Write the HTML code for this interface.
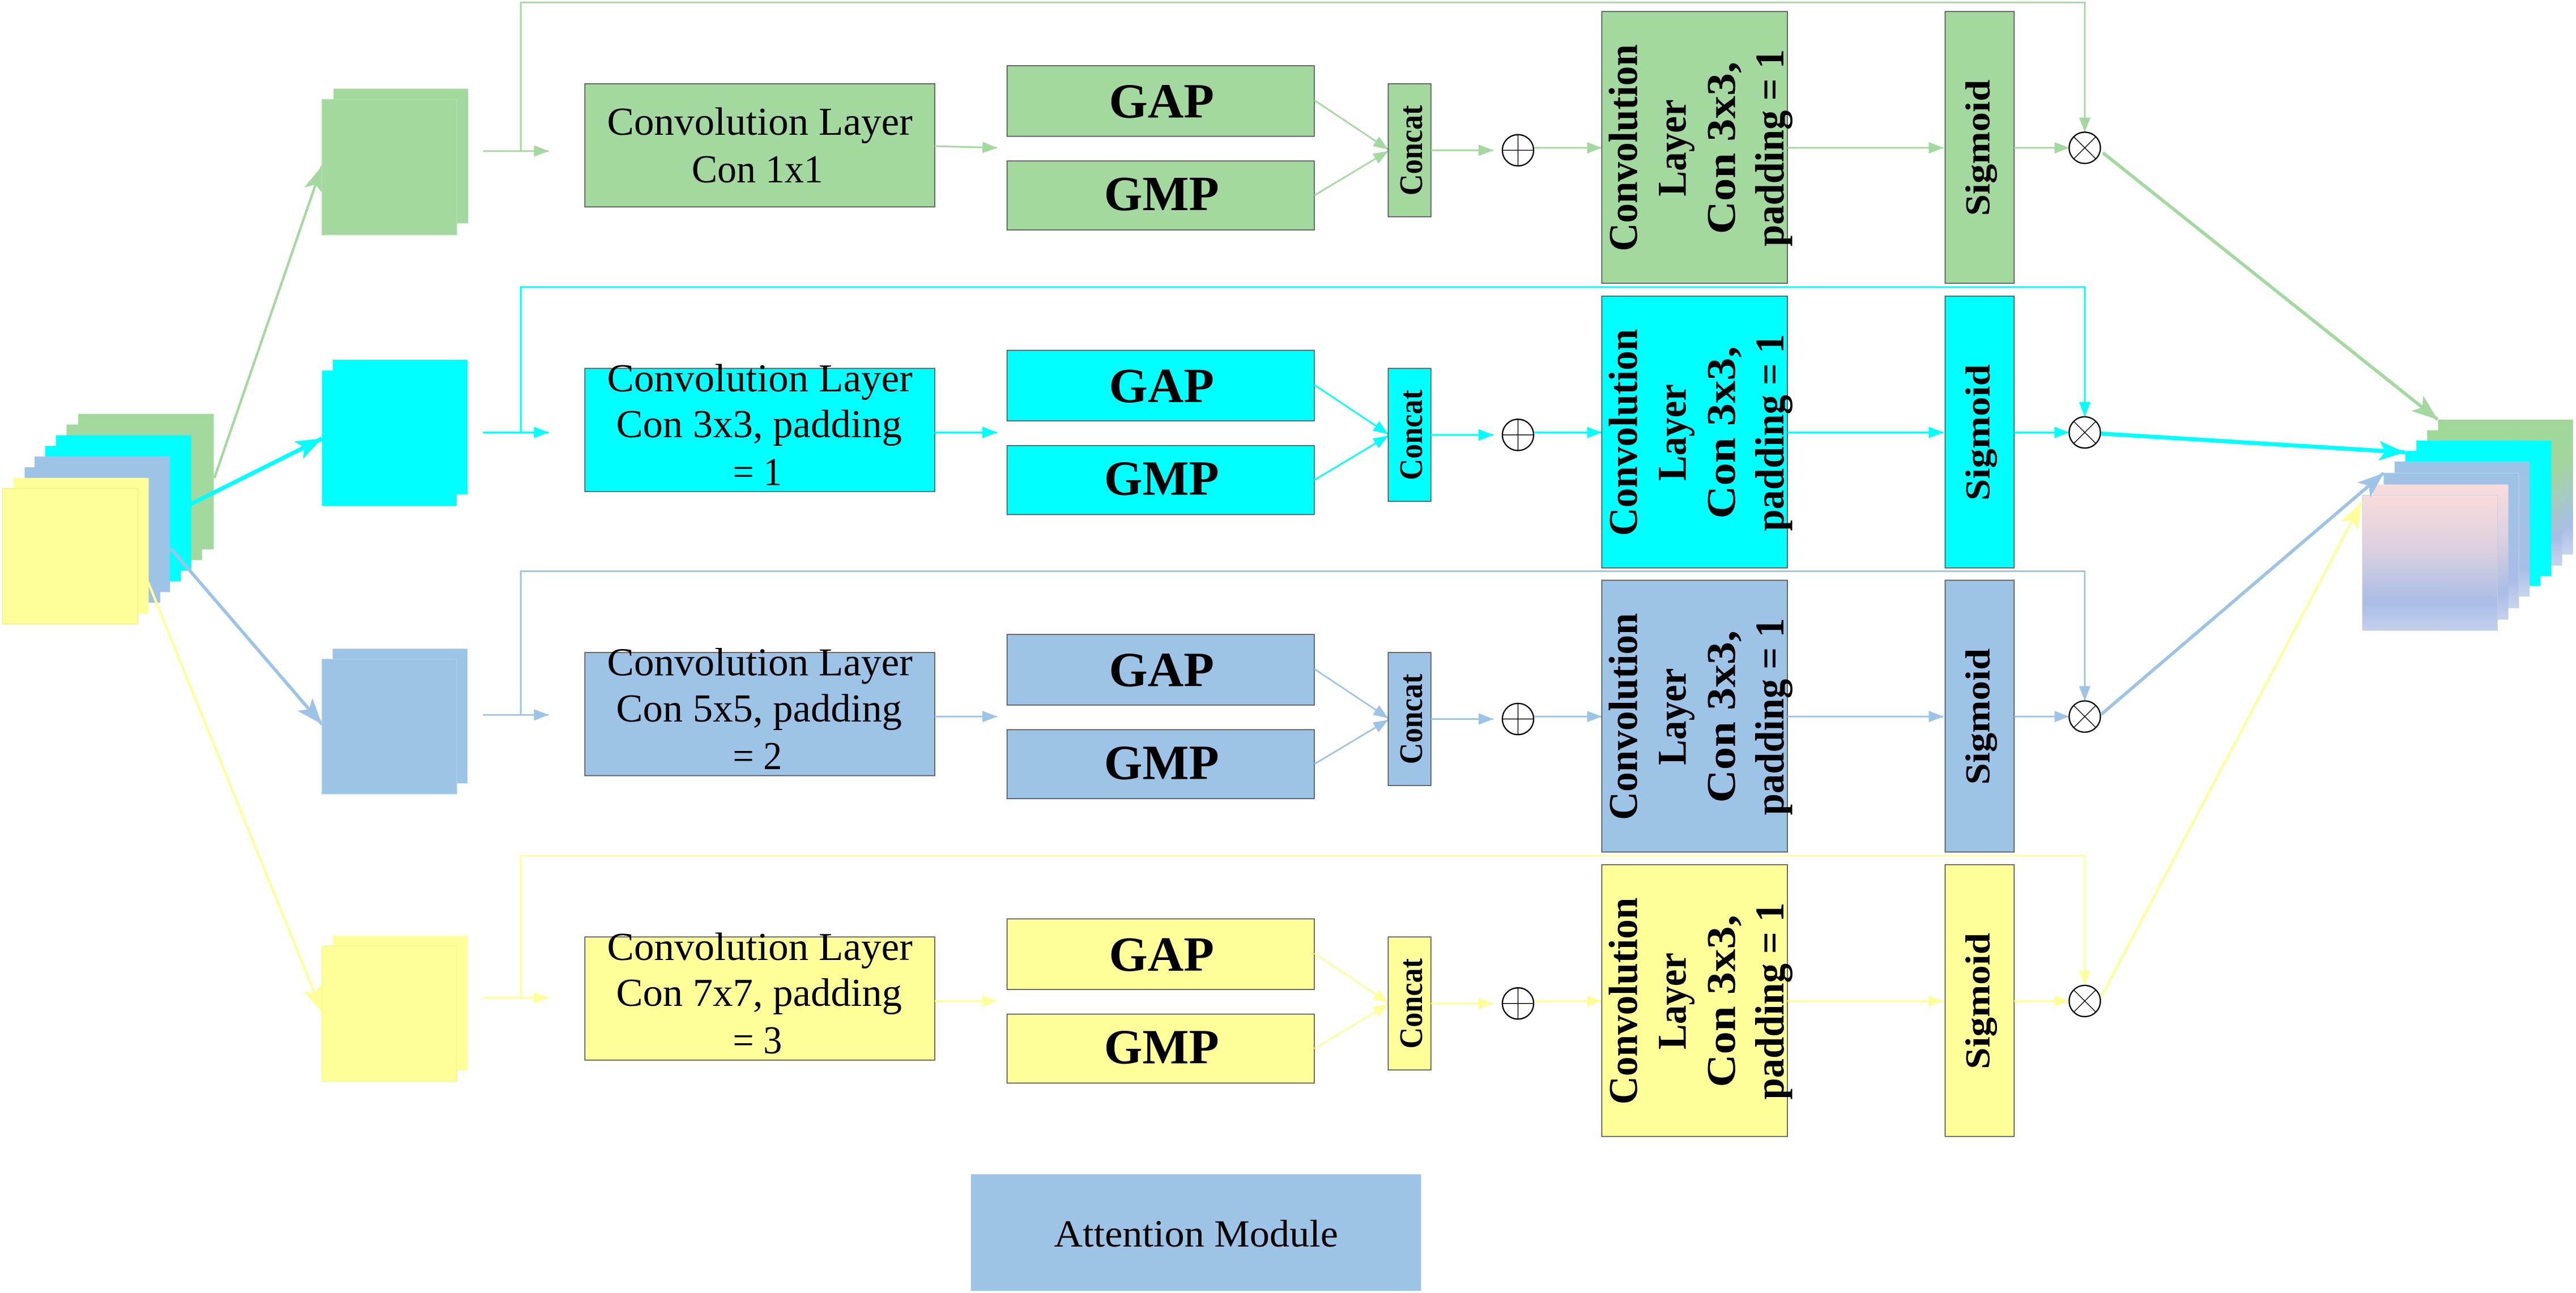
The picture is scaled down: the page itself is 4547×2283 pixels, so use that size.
<!DOCTYPE html>
<html><head><meta charset="utf-8"><style>
html,body{margin:0;padding:0;background:#fff;}
svg{display:block;}
text{font-family:"Liberation Serif",serif;fill:#000;}
.b{font-weight:bold;}
</style></head><body>
<svg width="4547" height="2283" viewBox="0 0 1568 787.3" preserveAspectRatio="none" xmlns="http://www.w3.org/2000/svg">
<defs>
<marker id="sg" markerUnits="userSpaceOnUse" markerWidth="9" markerHeight="7" refX="9" refY="3.5" orient="auto"><path d="M0,0 L9,3.5 L0,7 z" fill="#A3D89F"/></marker>
<marker id="sc" markerUnits="userSpaceOnUse" markerWidth="9" markerHeight="7" refX="9" refY="3.5" orient="auto"><path d="M0,0 L9,3.5 L0,7 z" fill="#00FFFF"/></marker>
<marker id="sb" markerUnits="userSpaceOnUse" markerWidth="9" markerHeight="7" refX="9" refY="3.5" orient="auto"><path d="M0,0 L9,3.5 L0,7 z" fill="#9DC3E6"/></marker>
<marker id="sy" markerUnits="userSpaceOnUse" markerWidth="9" markerHeight="7" refX="9" refY="3.5" orient="auto"><path d="M0,0 L9,3.5 L0,7 z" fill="#FFFF99"/></marker>
<marker id="lg" markerUnits="userSpaceOnUse" markerWidth="16" markerHeight="12" refX="16" refY="6" orient="auto"><path d="M0,0 L16,6 L0,12 L4,6 z" fill="#A3D89F"/></marker>
<marker id="lc" markerUnits="userSpaceOnUse" markerWidth="16" markerHeight="12" refX="16" refY="6" orient="auto"><path d="M0,0 L16,6 L0,12 L4,6 z" fill="#00FFFF"/></marker>
<marker id="lb" markerUnits="userSpaceOnUse" markerWidth="16" markerHeight="12" refX="16" refY="6" orient="auto"><path d="M0,0 L16,6 L0,12 L4,6 z" fill="#9DC3E6"/></marker>
<marker id="ly" markerUnits="userSpaceOnUse" markerWidth="16" markerHeight="12" refX="16" refY="6" orient="auto"><path d="M0,0 L16,6 L0,12 L4,6 z" fill="#FFFF99"/></marker>
<linearGradient id="gG" x1="0" y1="0" x2="0" y2="1"><stop offset="0" stop-color="#A0D89A"/><stop offset="0.3" stop-color="#A3D59E"/><stop offset="0.8" stop-color="#A9BEE6"/><stop offset="1" stop-color="#C8D4EE"/></linearGradient>
<linearGradient id="gB" x1="0" y1="0" x2="0" y2="1"><stop offset="0" stop-color="#9DC3E6"/><stop offset="0.8" stop-color="#A9BEE6"/><stop offset="1" stop-color="#C8D4EE"/></linearGradient>
<linearGradient id="gP" x1="0" y1="0" x2="0" y2="1"><stop offset="0" stop-color="#F9DCDC"/><stop offset="0.4" stop-color="#DCD0E0"/><stop offset="0.8" stop-color="#A9BDE6"/><stop offset="1" stop-color="#C5D0EC"/></linearGradient>
</defs>

<!-- input stack -->
<rect x="47.6" y="252" width="82.5" height="82.5" fill="#A3D89F"/>
<rect x="40.5" y="258.5" width="82.5" height="82.5" fill="#A3D89F"/>
<rect x="34" y="265" width="82.5" height="82.5" fill="#00FFFF"/>
<rect x="27.5" y="271.5" width="82.5" height="82.5" fill="#00FFFF"/>
<rect x="21" y="278" width="82.5" height="82.5" fill="#9DC3E6"/>
<rect x="15" y="284.5" width="82.5" height="82.5" fill="#9DC3E6"/>
<rect x="8" y="291" width="82.5" height="82.5" fill="#FFFF99"/>
<rect x="1.5" y="297.5" width="82.5" height="82.5" fill="#FFFF99" stroke="#F0F090" stroke-width="0.5"/>

<!-- input arrows -->
<line x1="130.5" y1="291" x2="196" y2="101" stroke="#A3D89F" stroke-width="1.5" marker-end="url(#lg)"/>
<line x1="116" y1="307" x2="196" y2="267" stroke="#00FFFF" stroke-width="2.5" marker-end="url(#lc)"/>
<line x1="104" y1="334" x2="196" y2="441" stroke="#9DC3E6" stroke-width="2" marker-end="url(#lb)"/>
<line x1="90" y1="354" x2="196" y2="616" stroke="#FFFF99" stroke-width="1.5" marker-end="url(#ly)"/>

<!-- row squares -->
<rect x="203" y="54" width="82" height="82" fill="#A3D89F"/>
<rect x="196" y="60.5" width="82" height="82.5" fill="#A3D89F" stroke="#B5E0B0" stroke-width="0.5"/>
<rect x="202.5" y="219" width="82" height="82" fill="#00FFFF"/>
<rect x="196" y="225.6" width="82" height="82.5" fill="#00FFFF"/>
<rect x="202.5" y="395" width="82" height="82" fill="#9DC3E6"/>
<rect x="196" y="401.4" width="82" height="82" fill="#9DC3E6" stroke="#B0CFEB" stroke-width="0.5"/>
<rect x="202.5" y="569.8" width="82" height="82" fill="#FFFF99"/>
<rect x="196" y="576" width="82" height="82.5" fill="#FFFF99" stroke="#F5F590" stroke-width="0.5"/>

<!-- Row 1 green -->
<g>
<polyline points="317,92 317,1.5 1269,1.5 1269,80.5" fill="none" stroke="#A3D89F" stroke-width="1" marker-end="url(#sg)"/>
<line x1="294" y1="92" x2="334" y2="92" stroke="#A3D89F" stroke-width="1" marker-end="url(#sg)"/>
<rect x="356" y="51" width="213" height="75" fill="#A3D89F" stroke="#555" stroke-width="0.6"/>
<text x="462.5" y="82" font-size="24" text-anchor="middle" textLength="186" lengthAdjust="spacingAndGlyphs">Convolution Layer</text>
<text x="461" y="111" font-size="24" text-anchor="middle" textLength="80" lengthAdjust="spacingAndGlyphs">Con 1x1</text>
<line x1="569" y1="89" x2="607" y2="90" stroke="#A3D89F" stroke-width="1" marker-end="url(#sg)"/>
<rect x="613" y="40" width="187" height="43" fill="#A3D89F" stroke="#555" stroke-width="0.6"/>
<rect x="613" y="98" width="187" height="42" fill="#A3D89F" stroke="#555" stroke-width="0.6"/>
<text x="707" y="71.5" font-size="30" class="b" text-anchor="middle" textLength="64" lengthAdjust="spacingAndGlyphs">GAP</text>
<text x="707" y="128" font-size="30" class="b" text-anchor="middle" textLength="70" lengthAdjust="spacingAndGlyphs">GMP</text>
<line x1="800" y1="61" x2="845" y2="91" stroke="#A3D89F" stroke-width="1" marker-end="url(#sg)"/>
<line x1="800" y1="119" x2="845" y2="92" stroke="#A3D89F" stroke-width="1" marker-end="url(#sg)"/>
<rect x="845" y="51" width="26" height="81" fill="#A3D89F" stroke="#555" stroke-width="0.6"/>
<text transform="translate(865.5,91.5) rotate(-90)" font-size="20" class="b" text-anchor="middle" textLength="55" lengthAdjust="spacingAndGlyphs">Concat</text>
<line x1="871" y1="91.5" x2="909" y2="91.5" stroke="#A3D89F" stroke-width="1" marker-end="url(#sg)"/>
<circle cx="924" cy="91.5" r="9.5" fill="#fff" stroke="#000" stroke-width="0.8"/>
<path d="M914.5,91.5 H933.5 M924,82 V101" stroke="#000" stroke-width="0.5"/>
<line x1="934" y1="90" x2="975" y2="90" stroke="#A3D89F" stroke-width="1" marker-end="url(#sg)"/>
<rect x="975" y="7" width="113" height="165.5" fill="#A3D89F" stroke="#555" stroke-width="0.6"/>
<text transform="translate(996.5,90) rotate(-90)" font-size="25" class="b" text-anchor="middle" textLength="126" lengthAdjust="spacingAndGlyphs">Convolution</text>
<text transform="translate(1026,90) rotate(-90)" font-size="25" class="b" text-anchor="middle" textLength="59" lengthAdjust="spacingAndGlyphs">Layer</text>
<text transform="translate(1056,90) rotate(-90)" font-size="25" class="b" text-anchor="middle" textLength="105" lengthAdjust="spacingAndGlyphs">Con 3x3,</text>
<text transform="translate(1085.5,90) rotate(-90)" font-size="25" class="b" text-anchor="middle" textLength="120" lengthAdjust="spacingAndGlyphs">padding = 1</text>
<line x1="1088" y1="90" x2="1183" y2="90" stroke="#A3D89F" stroke-width="1" marker-end="url(#sg)"/>
<rect x="1184" y="7" width="42" height="165.5" fill="#A3D89F" stroke="#555" stroke-width="0.6"/>
<text transform="translate(1211,90) rotate(-90)" font-size="21" class="b" text-anchor="middle" textLength="83" lengthAdjust="spacingAndGlyphs">Sigmoid</text>
<line x1="1226" y1="90" x2="1259.5" y2="90" stroke="#A3D89F" stroke-width="1" marker-end="url(#sg)"/>
<circle cx="1269" cy="90" r="9.5" fill="#fff" stroke="#000" stroke-width="0.8"/>
<path d="M1262.3,83.3 L1275.7,96.7 M1275.7,83.3 L1262.3,96.7" stroke="#000" stroke-width="0.5"/>
</g>

<!-- Row 2 cyan -->
<g transform="translate(0,173.3)">
<polyline points="317,90 317,1.5 1269,1.5 1269,80.5" fill="none" stroke="#00FFFF" stroke-width="1" marker-end="url(#sc)"/>
<line x1="294" y1="90" x2="334" y2="90" stroke="#00FFFF" stroke-width="1" marker-end="url(#sc)"/>
<rect x="356" y="51" width="213" height="75" fill="#00FFFF" stroke="#555" stroke-width="0.6"/>
<text x="462.5" y="65" font-size="24" text-anchor="middle" textLength="186" lengthAdjust="spacingAndGlyphs">Convolution Layer</text>
<text x="462" y="93" font-size="24" text-anchor="middle" textLength="174" lengthAdjust="spacingAndGlyphs">Con 3x3, padding</text>
<text x="461" y="122" font-size="24" text-anchor="middle" textLength="30" lengthAdjust="spacingAndGlyphs">= 1</text>
<line x1="569" y1="90" x2="607" y2="90" stroke="#00FFFF" stroke-width="1" marker-end="url(#sc)"/>
<rect x="613" y="40" width="187" height="43" fill="#00FFFF" stroke="#555" stroke-width="0.6"/>
<rect x="613" y="98" width="187" height="42" fill="#00FFFF" stroke="#555" stroke-width="0.6"/>
<text x="707" y="71.5" font-size="30" class="b" text-anchor="middle" textLength="64" lengthAdjust="spacingAndGlyphs">GAP</text>
<text x="707" y="128" font-size="30" class="b" text-anchor="middle" textLength="70" lengthAdjust="spacingAndGlyphs">GMP</text>
<line x1="800" y1="61" x2="845" y2="91" stroke="#00FFFF" stroke-width="1" marker-end="url(#sc)"/>
<line x1="800" y1="119" x2="845" y2="92" stroke="#00FFFF" stroke-width="1" marker-end="url(#sc)"/>
<rect x="845" y="51" width="26" height="81" fill="#00FFFF" stroke="#555" stroke-width="0.6"/>
<text transform="translate(865.5,91.5) rotate(-90)" font-size="20" class="b" text-anchor="middle" textLength="55" lengthAdjust="spacingAndGlyphs">Concat</text>
<line x1="871" y1="91.5" x2="909" y2="91.5" stroke="#00FFFF" stroke-width="1" marker-end="url(#sc)"/>
<circle cx="924" cy="91.5" r="9.5" fill="#fff" stroke="#000" stroke-width="0.8"/>
<path d="M914.5,91.5 H933.5 M924,82 V101" stroke="#000" stroke-width="0.5"/>
<line x1="934" y1="90" x2="975" y2="90" stroke="#00FFFF" stroke-width="1" marker-end="url(#sc)"/>
<rect x="975" y="7" width="113" height="165.5" fill="#00FFFF" stroke="#555" stroke-width="0.6"/>
<text transform="translate(996.5,90) rotate(-90)" font-size="25" class="b" text-anchor="middle" textLength="126" lengthAdjust="spacingAndGlyphs">Convolution</text>
<text transform="translate(1026,90) rotate(-90)" font-size="25" class="b" text-anchor="middle" textLength="59" lengthAdjust="spacingAndGlyphs">Layer</text>
<text transform="translate(1056,90) rotate(-90)" font-size="25" class="b" text-anchor="middle" textLength="105" lengthAdjust="spacingAndGlyphs">Con 3x3,</text>
<text transform="translate(1085.5,90) rotate(-90)" font-size="25" class="b" text-anchor="middle" textLength="120" lengthAdjust="spacingAndGlyphs">padding = 1</text>
<line x1="1088" y1="90" x2="1183" y2="90" stroke="#00FFFF" stroke-width="1" marker-end="url(#sc)"/>
<rect x="1184" y="7" width="42" height="165.5" fill="#00FFFF" stroke="#555" stroke-width="0.6"/>
<text transform="translate(1211,90) rotate(-90)" font-size="21" class="b" text-anchor="middle" textLength="83" lengthAdjust="spacingAndGlyphs">Sigmoid</text>
<line x1="1226" y1="90" x2="1259.5" y2="90" stroke="#00FFFF" stroke-width="1" marker-end="url(#sc)"/>
<circle cx="1269" cy="90" r="9.5" fill="#fff" stroke="#000" stroke-width="0.8"/>
<path d="M1262.3,83.3 L1275.7,96.7 M1275.7,83.3 L1262.3,96.7" stroke="#000" stroke-width="0.5"/>
</g>

<!-- Row 3 blue -->
<g transform="translate(0,346.3)">
<polyline points="317,89 317,1.5 1269,1.5 1269,80.5" fill="none" stroke="#9DC3E6" stroke-width="1" marker-end="url(#sb)"/>
<line x1="294" y1="89" x2="334" y2="89" stroke="#9DC3E6" stroke-width="1" marker-end="url(#sb)"/>
<rect x="356" y="51" width="213" height="75" fill="#9DC3E6" stroke="#555" stroke-width="0.6"/>
<text x="462.5" y="65" font-size="24" text-anchor="middle" textLength="186" lengthAdjust="spacingAndGlyphs">Convolution Layer</text>
<text x="462" y="93" font-size="24" text-anchor="middle" textLength="174" lengthAdjust="spacingAndGlyphs">Con 5x5, padding</text>
<text x="461" y="122" font-size="24" text-anchor="middle" textLength="30" lengthAdjust="spacingAndGlyphs">= 2</text>
<line x1="569" y1="90" x2="607" y2="90" stroke="#9DC3E6" stroke-width="1" marker-end="url(#sb)"/>
<rect x="613" y="40" width="187" height="43" fill="#9DC3E6" stroke="#555" stroke-width="0.6"/>
<rect x="613" y="98" width="187" height="42" fill="#9DC3E6" stroke="#555" stroke-width="0.6"/>
<text x="707" y="71.5" font-size="30" class="b" text-anchor="middle" textLength="64" lengthAdjust="spacingAndGlyphs">GAP</text>
<text x="707" y="128" font-size="30" class="b" text-anchor="middle" textLength="70" lengthAdjust="spacingAndGlyphs">GMP</text>
<line x1="800" y1="61" x2="845" y2="91" stroke="#9DC3E6" stroke-width="1" marker-end="url(#sb)"/>
<line x1="800" y1="119" x2="845" y2="92" stroke="#9DC3E6" stroke-width="1" marker-end="url(#sb)"/>
<rect x="845" y="51" width="26" height="81" fill="#9DC3E6" stroke="#555" stroke-width="0.6"/>
<text transform="translate(865.5,91.5) rotate(-90)" font-size="20" class="b" text-anchor="middle" textLength="55" lengthAdjust="spacingAndGlyphs">Concat</text>
<line x1="871" y1="91.5" x2="909" y2="91.5" stroke="#9DC3E6" stroke-width="1" marker-end="url(#sb)"/>
<circle cx="924" cy="91.5" r="9.5" fill="#fff" stroke="#000" stroke-width="0.8"/>
<path d="M914.5,91.5 H933.5 M924,82 V101" stroke="#000" stroke-width="0.5"/>
<line x1="934" y1="90" x2="975" y2="90" stroke="#9DC3E6" stroke-width="1" marker-end="url(#sb)"/>
<rect x="975" y="7" width="113" height="165.5" fill="#9DC3E6" stroke="#555" stroke-width="0.6"/>
<text transform="translate(996.5,90) rotate(-90)" font-size="25" class="b" text-anchor="middle" textLength="126" lengthAdjust="spacingAndGlyphs">Convolution</text>
<text transform="translate(1026,90) rotate(-90)" font-size="25" class="b" text-anchor="middle" textLength="59" lengthAdjust="spacingAndGlyphs">Layer</text>
<text transform="translate(1056,90) rotate(-90)" font-size="25" class="b" text-anchor="middle" textLength="105" lengthAdjust="spacingAndGlyphs">Con 3x3,</text>
<text transform="translate(1085.5,90) rotate(-90)" font-size="25" class="b" text-anchor="middle" textLength="120" lengthAdjust="spacingAndGlyphs">padding = 1</text>
<line x1="1088" y1="90" x2="1183" y2="90" stroke="#9DC3E6" stroke-width="1" marker-end="url(#sb)"/>
<rect x="1184" y="7" width="42" height="165.5" fill="#9DC3E6" stroke="#555" stroke-width="0.6"/>
<text transform="translate(1211,90) rotate(-90)" font-size="21" class="b" text-anchor="middle" textLength="83" lengthAdjust="spacingAndGlyphs">Sigmoid</text>
<line x1="1226" y1="90" x2="1259.5" y2="90" stroke="#9DC3E6" stroke-width="1" marker-end="url(#sb)"/>
<circle cx="1269" cy="90" r="9.5" fill="#fff" stroke="#000" stroke-width="0.8"/>
<path d="M1262.3,83.3 L1275.7,96.7 M1275.7,83.3 L1262.3,96.7" stroke="#000" stroke-width="0.5"/>
</g>

<!-- Row 4 yellow -->
<g transform="translate(0,519.5)">
<polyline points="317,88 317,1.5 1269,1.5 1269,80.5" fill="none" stroke="#FFFF99" stroke-width="1" marker-end="url(#sy)"/>
<line x1="294" y1="88" x2="334" y2="88" stroke="#FFFF99" stroke-width="1" marker-end="url(#sy)"/>
<rect x="356" y="51" width="213" height="75" fill="#FFFF99" stroke="#555" stroke-width="0.6"/>
<text x="462.5" y="65" font-size="24" text-anchor="middle" textLength="186" lengthAdjust="spacingAndGlyphs">Convolution Layer</text>
<text x="462" y="93" font-size="24" text-anchor="middle" textLength="174" lengthAdjust="spacingAndGlyphs">Con 7x7, padding</text>
<text x="461" y="122" font-size="24" text-anchor="middle" textLength="30" lengthAdjust="spacingAndGlyphs">= 3</text>
<line x1="569" y1="90" x2="607" y2="90" stroke="#FFFF99" stroke-width="1" marker-end="url(#sy)"/>
<rect x="613" y="40" width="187" height="43" fill="#FFFF99" stroke="#555" stroke-width="0.6"/>
<rect x="613" y="98" width="187" height="42" fill="#FFFF99" stroke="#555" stroke-width="0.6"/>
<text x="707" y="71.5" font-size="30" class="b" text-anchor="middle" textLength="64" lengthAdjust="spacingAndGlyphs">GAP</text>
<text x="707" y="128" font-size="30" class="b" text-anchor="middle" textLength="70" lengthAdjust="spacingAndGlyphs">GMP</text>
<line x1="800" y1="61" x2="845" y2="91" stroke="#FFFF99" stroke-width="1" marker-end="url(#sy)"/>
<line x1="800" y1="119" x2="845" y2="92" stroke="#FFFF99" stroke-width="1" marker-end="url(#sy)"/>
<rect x="845" y="51" width="26" height="81" fill="#FFFF99" stroke="#555" stroke-width="0.6"/>
<text transform="translate(865.5,91.5) rotate(-90)" font-size="20" class="b" text-anchor="middle" textLength="55" lengthAdjust="spacingAndGlyphs">Concat</text>
<line x1="871" y1="91.5" x2="909" y2="91.5" stroke="#FFFF99" stroke-width="1" marker-end="url(#sy)"/>
<circle cx="924" cy="91.5" r="9.5" fill="#fff" stroke="#000" stroke-width="0.8"/>
<path d="M914.5,91.5 H933.5 M924,82 V101" stroke="#000" stroke-width="0.5"/>
<line x1="934" y1="90" x2="975" y2="90" stroke="#FFFF99" stroke-width="1" marker-end="url(#sy)"/>
<rect x="975" y="7" width="113" height="165.5" fill="#FFFF99" stroke="#555" stroke-width="0.6"/>
<text transform="translate(996.5,90) rotate(-90)" font-size="25" class="b" text-anchor="middle" textLength="126" lengthAdjust="spacingAndGlyphs">Convolution</text>
<text transform="translate(1026,90) rotate(-90)" font-size="25" class="b" text-anchor="middle" textLength="59" lengthAdjust="spacingAndGlyphs">Layer</text>
<text transform="translate(1056,90) rotate(-90)" font-size="25" class="b" text-anchor="middle" textLength="105" lengthAdjust="spacingAndGlyphs">Con 3x3,</text>
<text transform="translate(1085.5,90) rotate(-90)" font-size="25" class="b" text-anchor="middle" textLength="120" lengthAdjust="spacingAndGlyphs">padding = 1</text>
<line x1="1088" y1="90" x2="1183" y2="90" stroke="#FFFF99" stroke-width="1" marker-end="url(#sy)"/>
<rect x="1184" y="7" width="42" height="165.5" fill="#FFFF99" stroke="#555" stroke-width="0.6"/>
<text transform="translate(1211,90) rotate(-90)" font-size="21" class="b" text-anchor="middle" textLength="83" lengthAdjust="spacingAndGlyphs">Sigmoid</text>
<line x1="1226" y1="90" x2="1259.5" y2="90" stroke="#FFFF99" stroke-width="1" marker-end="url(#sy)"/>
<circle cx="1269" cy="90" r="9.5" fill="#fff" stroke="#000" stroke-width="0.8"/>
<path d="M1262.3,83.3 L1275.7,96.7 M1275.7,83.3 L1262.3,96.7" stroke="#000" stroke-width="0.5"/>
</g>

<!-- output stack -->
<rect x="1484" y="255.5" width="82.2" height="82.2" fill="url(#gG)"/>
<rect x="1477.4" y="262" width="82.2" height="82.4" fill="url(#gG)"/>
<rect x="1470.8" y="268.3" width="82.2" height="82.4" fill="#00FFFF"/>
<rect x="1464.2" y="274.6" width="82.2" height="82.2" fill="#00FFFF"/>
<rect x="1457.6" y="281" width="82.2" height="82.2" fill="url(#gB)"/>
<rect x="1451" y="288" width="82.2" height="82.2" fill="url(#gB)" stroke="#C8D4EC" stroke-width="0.3"/>
<rect x="1444.6" y="295" width="82.2" height="82.3" fill="url(#gP)"/>
<rect x="1438" y="301.5" width="82.2" height="82.4" fill="url(#gP)" stroke="#C5CCE0" stroke-width="0.3"/>

<!-- output arrows -->
<line x1="1280" y1="93" x2="1483.8" y2="255.5" stroke="#A3D89F" stroke-width="2" marker-end="url(#lg)"/>
<line x1="1279" y1="264" x2="1464" y2="275.4" stroke="#00FFFF" stroke-width="2.5" marker-end="url(#lc)"/>
<line x1="1279" y1="435" x2="1451" y2="288" stroke="#9DC3E6" stroke-width="2" marker-end="url(#lb)"/>
<line x1="1279" y1="607" x2="1437.5" y2="306" stroke="#FFFF99" stroke-width="1.5" marker-end="url(#ly)"/>

<!-- attention module -->
<rect x="591" y="715" width="274" height="71" fill="#9DC3E6"/>
<text x="728" y="759" font-size="23.5" text-anchor="middle" textLength="173" lengthAdjust="spacingAndGlyphs">Attention Module</text>
</svg>
</body></html>
